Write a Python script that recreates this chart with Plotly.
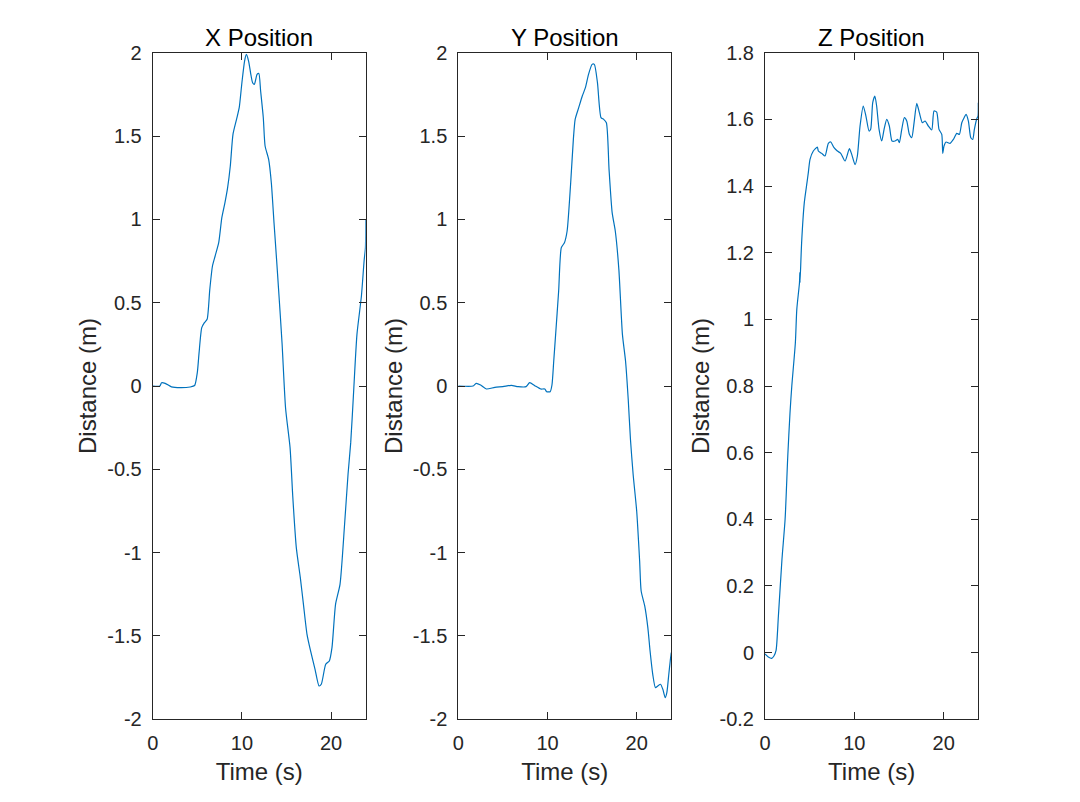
import plotly.graph_objects as go

# time (s) and position (m)
x_time = [0, 0.8, 1.0, 1.4, 2.1, 3.1, 4.2, 4.7, 5.0, 5.2, 5.5, 5.8, 6.1, 6.4, 6.7, 7.0,
          7.4, 7.75, 8.1, 8.4, 8.7, 9.0, 9.4, 9.7, 10.0, 10.3, 10.5, 10.75, 11.0, 11.2,
          11.4, 11.7, 11.9, 12.1, 12.4, 12.6, 13.0, 13.3, 13.6, 13.9, 14.1, 14.5, 14.9,
          15.4, 15.7, 16.1, 16.55, 16.9, 17.3, 17.7, 18.2, 18.65, 18.9, 19.4, 19.8,
          20.1, 20.5, 21.0, 21.5, 21.9, 22.2, 22.5, 22.9, 23.4, 23.7, 23.85, 23.88]
x_pos = [0, 0.0, 0.02, 0.016, -0.005, -0.01, -0.006, 0.003, 0.08, 0.2, 0.35, 0.38, 0.40,
         0.58, 0.72, 0.78, 0.86, 1.01, 1.10, 1.19, 1.32, 1.51, 1.60, 1.67, 1.82, 1.95,
         1.99, 1.95, 1.87, 1.82, 1.81, 1.87, 1.875, 1.77, 1.61, 1.44, 1.36, 1.22, 0.98,
         0.75, 0.59, 0.26, -0.135, -0.37, -0.66, -0.97, -1.15, -1.31, -1.49, -1.59,
         -1.70, -1.80, -1.79, -1.67, -1.65, -1.57, -1.31, -1.19, -0.84, -0.53, -0.34,
         -0.06, 0.31, 0.54, 0.75, 0.83, 1.0]

y_time = [0, 1.66, 2.0, 2.5, 3.15, 4.1, 5.0, 5.95, 6.7, 7.6, 8.0, 8.57, 9.24, 9.7, 9.9,
          10.3, 10.5, 10.7, 10.9, 11.25, 11.55, 11.9, 12.2, 12.6, 12.9, 13.1, 13.5, 13.9,
          14.25, 14.6, 15.0, 15.25, 15.6, 16.0, 16.3, 16.6, 16.9, 17.25, 17.6, 18.0, 18.4,
          18.75, 19.05, 19.3, 19.6, 20.0, 20.33, 20.5, 20.9, 21.25, 21.5, 21.8, 22.1,
          22.37, 22.67, 22.93, 23.2, 23.38, 23.6, 23.76, 23.88]
y_pos = [0, 0.0, 0.016, 0.006, -0.018, -0.008, -0.004, 0.004, -0.004, -0.004, 0.02, 0.002,
         -0.018, -0.018, -0.034, -0.034, 0.006, 0.15, 0.3, 0.57, 0.83, 0.86, 0.93, 1.22,
         1.48, 1.60, 1.67, 1.74, 1.79, 1.87, 1.93, 1.93, 1.82, 1.61, 1.60, 1.58, 1.30,
         1.04, 0.93, 0.70, 0.31, 0.15, -0.08, -0.32, -0.53, -0.75, -1.05, -1.23, -1.32,
         -1.45, -1.59, -1.73, -1.81, -1.80, -1.79, -1.82, -1.87, -1.84, -1.73, -1.65, -1.60]

z_time = [0, 0.37, 0.75, 1.0, 1.24, 1.5, 1.9, 2.25, 2.55, 2.8, 3.0, 3.4, 3.56, 3.86, 3.9,
          3.92, 4.1, 4.4, 4.7, 4.85, 5.04, 5.41, 5.86, 5.97, 6.35, 6.72, 7.09, 7.36, 7.73,
          8.1, 8.48, 8.96, 9.45, 9.71, 10.08, 10.34, 10.64, 11.0, 11.3, 11.65, 11.83,
          12.06, 12.3, 12.5, 12.77, 13.07, 13.33, 13.63, 13.92, 14.22, 14.56, 14.86,
          15.04, 15.31, 15.6, 15.87, 16.16, 16.43, 16.69, 16.99, 17.28, 17.62, 17.92,
          18.29, 18.67, 18.92, 19.22, 19.48, 19.79, 19.9, 20.04, 20.27, 20.72, 21.09,
          21.47, 21.76, 22.03, 22.29, 22.51, 22.77, 23.04, 23.26, 23.44, 23.71, 23.85, 23.88]
z_pos = [-0.004, -0.013, -0.017, -0.01, 0.007, 0.11, 0.28, 0.40, 0.59, 0.72, 0.80, 0.93,
         1.03, 1.11, 1.14, 1.11, 1.23, 1.35, 1.41, 1.44, 1.48, 1.505, 1.517, 1.505, 1.498,
         1.49, 1.528, 1.532, 1.515, 1.505, 1.498, 1.475, 1.512, 1.495, 1.464, 1.49, 1.58,
         1.64, 1.61, 1.565, 1.57, 1.65, 1.67, 1.64, 1.57, 1.535, 1.57, 1.60, 1.58, 1.535,
         1.535, 1.54, 1.53, 1.57, 1.605, 1.595, 1.555, 1.545, 1.59, 1.648, 1.62, 1.59,
         1.595, 1.58, 1.568, 1.625, 1.622, 1.57, 1.555, 1.498, 1.52, 1.532, 1.528, 1.54,
         1.558, 1.555, 1.59, 1.605, 1.615, 1.595, 1.545, 1.54, 1.57, 1.602, 1.61, 1.65]

titles = ["X Position", "Y Position", "Z Position"]
time_ticks = [0, 10, 20]
xy_ticks = [2, 1.5, 1, 0.5, 0, -0.5, -1, -1.5, -2]
xy_labels = ["2", "1.5", "1", "0.5", "0", "-0.5", "-1", "-1.5", "-2"]
z_ticks = [1.8, 1.6, 1.4, 1.2, 1, 0.8, 0.6, 0.4, 0.2, 0, -0.2]
z_labels = ["1.8", "1.6", "1.4", "1.2", "1", "0.8", "0.6", "0.4", "0.2", "0", "-0.2"]

# page is offset by the default 8px body margin
OFF = 8
W, H = 1080 - 2 * OFF, 802 - 2 * OFF
boxes = [(152.7, 365.7), (458.3, 671.3), (765.0, 978.3)]
top, bottom = 52.7, 719.3
ydom = [1 - (bottom - OFF) / H, 1 - (top - OFF) / H]

FONT = "Liberation Sans, Arial, sans-serif"
AXC = "#262626"
LINE = "#0072BD"

fig = go.Figure()
series = [(x_time, x_pos), (y_time, y_pos), (z_time, z_pos)]
for i, (t, v) in enumerate(series):
    n = "" if i == 0 else str(i + 1)
    fig.add_trace(go.Scatter(x=t, y=v, mode="lines", xaxis="x" + n, yaxis="y" + n,
                             line=dict(color=LINE, width=1.2, shape="spline",
                                       smoothing=0.6),
                             showlegend=False, hoverinfo="skip"))

layout = dict(width=W, height=H, autosize=False,
              margin=dict(l=0, r=0, t=0, b=0),
              paper_bgcolor="white", plot_bgcolor="white",
              font=dict(family=FONT, size=20, color=AXC),
              annotations=[])

for i, (x0, x1) in enumerate(boxes):
    n = "" if i == 0 else str(i + 1)
    common = dict(showline=True, linecolor=AXC, linewidth=1, mirror="ticks",
                  ticks="inside", ticklen=7, tickcolor=AXC, tickwidth=1,
                  showgrid=False, zeroline=False, automargin=False,
                  ticklabelstandoff=6,
                  tickfont=dict(family=FONT, size=20, color=AXC))
    layout["xaxis" + n] = dict(domain=[(x0 - OFF) / W, (x1 - OFF) / W], range=[0, 23.88],
                               anchor="y" + n, tickvals=time_ticks,
                               title=dict(text="Time (s)", standoff=9,
                                          font=dict(family=FONT, size=24, color=AXC)),
                               **common)
    if i < 2:
        yr, tv, tt = [-2, 2], xy_ticks, xy_labels
    else:
        yr, tv, tt = [-0.2, 1.8], z_ticks, z_labels
    layout["yaxis" + n] = dict(domain=ydom, range=yr, anchor="x" + n,
                               tickvals=tv, ticktext=tt,
                               title=dict(text="Distance (m)", standoff=3,
                                          font=dict(family=FONT, size=24, color=AXC)),
                               **common)
    layout["annotations"].append(dict(text=titles[i], xref="paper", yref="paper",
                                      x=((x0 + x1) / 2 - OFF) / W, y=ydom[1], yshift=0,
                                      xanchor="center", yanchor="bottom",
                                      showarrow=False,
                                      font=dict(family=FONT, size=24, color="black")))

fig.update_layout(**layout)
fig.write_html("out.html")
